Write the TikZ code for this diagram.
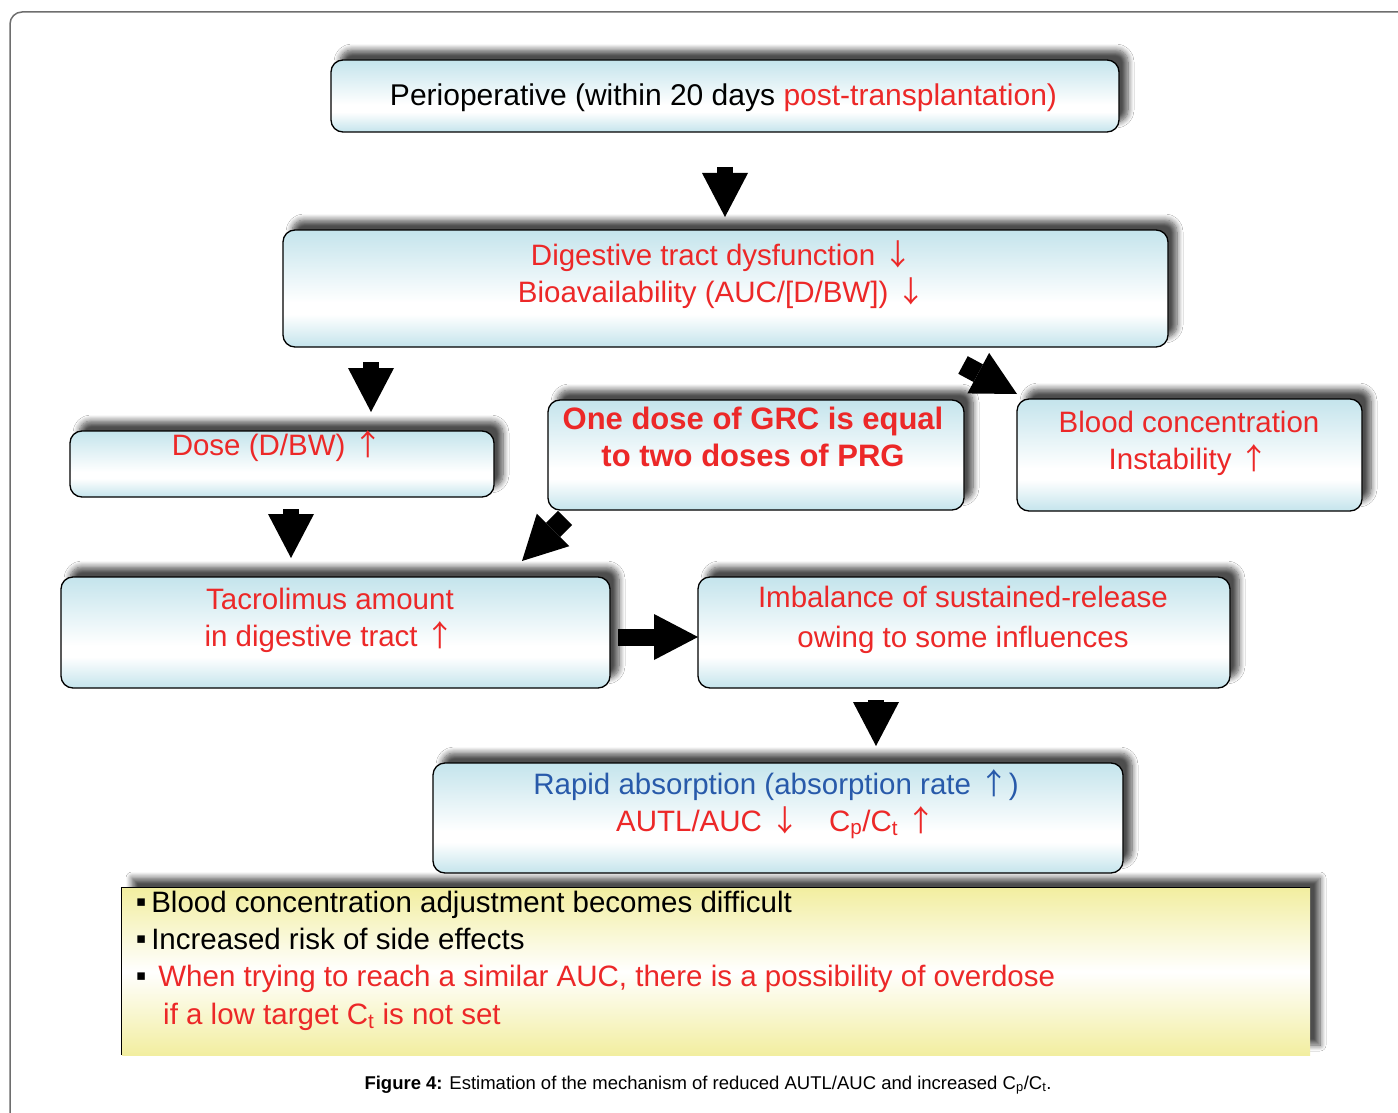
\documentclass[tikz,border=0pt]{standalone}
\usepackage{fontspec}
\setmainfont{Liberation Sans}
\newfontfamily\cjk{Noto Sans CJK JP}
\newfontfamily\djv{DejaVu Sans}
\usetikzlibrary{arrows.meta,shadows.blur}
\definecolor{boxblue}{RGB}{196,228,236}
\definecolor{yel}{RGB}{242,238,160}
\definecolor{txtred}{RGB}{236,40,40}
\definecolor{txtblue}{RGB}{40,90,170}
\definecolor{framec}{RGB}{110,110,110}
\pgfdeclareverticalshading{bluebox}{100bp}{color(0bp)=(boxblue); color(25bp)=(boxblue); color(39bp)=(white); color(44bp)=(white); color(75bp)=(boxblue); color(100bp)=(boxblue)}
\newcommand\uarr{{\cjk ↑}}
\newcommand\darr{{\cjk ↓}}
\newcommand\bul{\raisebox{6pt}{\djv\fontsize{15}{15}\selectfont ▪}}
\begin{document}
\begin{tikzpicture}[x=1pt,y=-1pt,
  card/.style={draw=black, line width=1.3pt, rounded corners=12pt, shading=bluebox, shading angle=0, inner sep=0pt,
    blur shadow={shadow xshift=9pt, shadow yshift=10pt, shadow blur radius=6pt, shadow blur steps=8, shadow opacity=70}},
  txt/.style={font=\fontsize{29.5}{37}\selectfont, align=center, inner sep=0pt, text=txtred, anchor=base},
  ytxt/.style={font=\fontsize{29.5}{37}\selectfont, inner sep=0pt, anchor=base west},
  barrow/.style={draw=black, line width=#1, -{Triangle[width=46pt,length=44pt,line width=0pt]}}
]
\useasboundingbox (0,0) rectangle (1398,1113);
\fill[white] (0,0) rectangle (1398,1113);
% outer frame
\draw[framec, line width=1.5pt, rounded corners=12pt] (10,1113) -- (10,12) -- (1398,12);

% boxes
\node[card, minimum width=788pt, minimum height=72pt] (peri) at (725,96) {};
\node[card, minimum width=885pt, minimum height=117pt] (dig) at (725.5,288.5) {};
\node[card, minimum width=424pt, minimum height=66pt] (dose) at (282,464) {};
\node[card, minimum width=416pt, minimum height=110pt] (grc) at (756,455) {};
\node[card, minimum width=345pt, minimum height=112pt] (blood) at (1189.5,455) {};
\node[card, minimum width=549pt, minimum height=111pt] (tac) at (335.5,632.5) {};
\node[card, minimum width=532pt, minimum height=111pt] (imb) at (964,632.5) {};
\node[card, minimum width=690pt, minimum height=110pt] (rap) at (778,818) {};
\node[top color=yel, bottom color=yel, middle color=white, inner sep=0pt,
  minimum width=1188pt, minimum height=167pt,
  blur shadow={shadow xshift=10pt, shadow yshift=10pt, shadow blur radius=6pt, shadow blur steps=8, shadow opacity=70}] (yb) at (716,971.5) {};
\draw[black, line width=1.2pt] (yb.south west) -- (yb.north west) -- (yb.north east);

% texts
\node[txt, text=black, font=\fontsize{30}{37}\selectfont] (tperi) at (723.5,106) {Perioperative (within 20 days \textcolor{txtred}{post-transplantation)}};
\node[txt] (tdig) at (722,302) {Digestive tract dysfunction \darr\\Bioavailability (AUC/[D/BW]) \darr};
\node[txt] (tdose) at (277.5,455) {Dose (D/BW) \uarr};
\node[txt, font=\bfseries\fontsize{31}{37}\selectfont] (tgrc) at (753,466) {One dose of GRC is equal\\to two doses of PRG};
\node[txt] (tblood) at (1189,469) {Blood concentration\\Instability \uarr};
\node[txt] (ttac) at (330,646) {Tacrolimus amount\\in digestive tract \uarr};
\node[txt, font=\fontsize{29.5}{40}\selectfont] (timb) at (963,647) {Imbalance of sustained-release\\owing to some influences};
\node[txt] (trap) at (776,831) {\textcolor{txtblue}{Rapid absorption (absorption rate \uarr)}\\AUTL/AUC \darr\quad C\textsubscript{p}/C\textsubscript{t} \uarr};

\node[ytxt] (y1) at (136,912) {\bul\,Blood concentration adjustment becomes difficult};
\node[ytxt] (y2) at (136,949) {\bul\,Increased risk of side effects};
\node[ytxt] (y3) at (136,986) {\bul\hspace{12pt}\textcolor{txtred}{When trying to reach a similar AUC, there is a possibility of overdose}};
\node[ytxt, text=txtred] (y4) at (163,1024) {if a low target C\textsubscript{t} is not set};

\node[anchor=base, inner sep=0pt, font=\fontsize{18.5}{20}\selectfont] (cap) at (708,1089) {\textbf{Figure 4:} Estimation of the mechanism of reduced AUTL/AUC and increased C\textsubscript{p}/C\textsubscript{t}.};

% arrows
\coordinate (a1s) at (725,167); \coordinate (a1e) at (725,217);
\coordinate (a2s) at (371,362); \coordinate (a2e) at (371,412);
\coordinate (a3s) at (291,509); \coordinate (a3e) at (291,558);
\coordinate (a4s) at (963,365); \coordinate (a4e) at (1017,394);
\coordinate (a5s) at (565,518); \coordinate (a5e) at (522,561);
\coordinate (a6s) at (618,637); \coordinate (a6e) at (698,637);
\coordinate (a7s) at (876,700); \coordinate (a7e) at (876,746);
\draw[barrow=16pt] (a1s) -- (a1e);
\draw[barrow=16pt] (a2s) -- (a2e);
\draw[barrow=16pt] (a3s) -- (a3e);
\draw[barrow=20pt] (a4s) -- (a4e);
\draw[barrow=20pt] (a5s) -- (a5e);
\draw[barrow=17pt] (a6s) -- (a6e);
\draw[barrow=16pt] (a7s) -- (a7e);
\end{tikzpicture}
\end{document}
